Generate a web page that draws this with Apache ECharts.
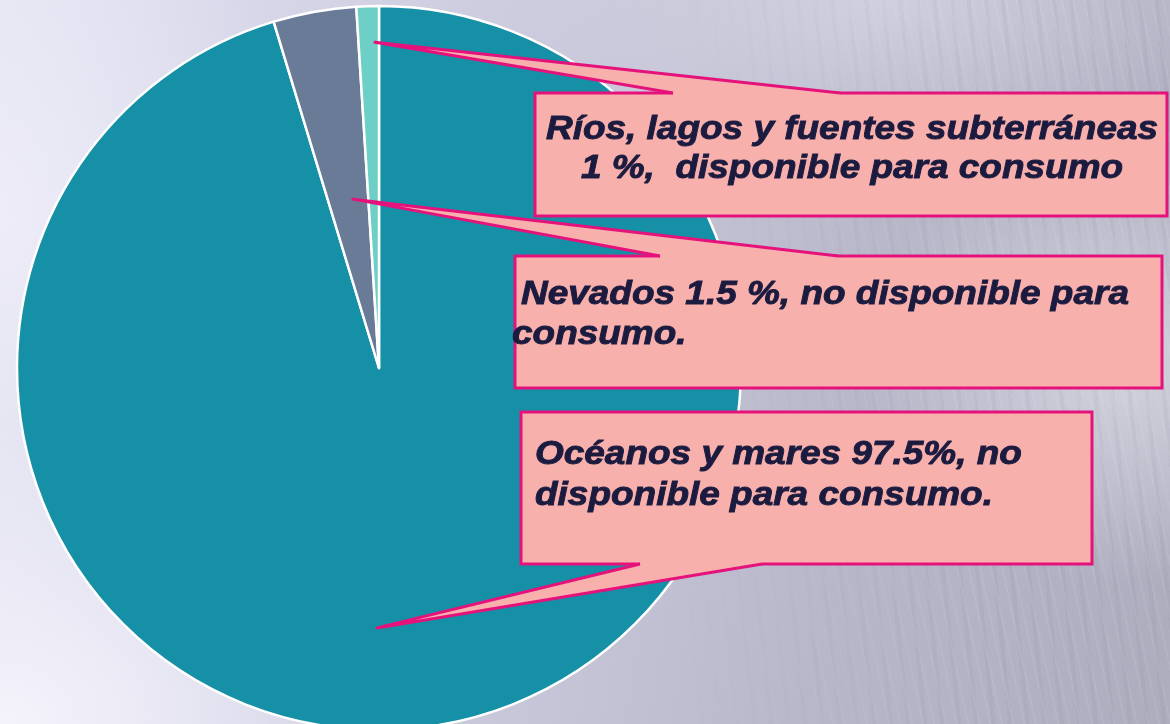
<!DOCTYPE html>
<html>
<head>
<meta charset="utf-8">
<title>Agua en el planeta</title>
<script src="https://cdn.jsdelivr.net/npm/echarts@6/dist/echarts.min.js"></script>
<style>
  html, body { margin: 0; padding: 0; }
  #wrap {
    position: relative; width: 1170px; height: 724px; overflow: hidden;
    background:
      radial-gradient(ellipse 420px 300px at 0% 100%, rgba(246,245,253,0.95), rgba(246,245,253,0) 100%),
      radial-gradient(ellipse 300px 420px at 0% 30%, rgba(240,239,250,0.8), rgba(240,239,250,0) 100%),
      radial-gradient(ellipse 260px 220px at 96% 50%, rgba(226,226,236,0.7), rgba(226,226,236,0) 100%),
      radial-gradient(ellipse 380px 160px at 75% 0%, rgba(214,213,228,0.8), rgba(214,213,228,0) 100%),
      linear-gradient(100deg, #e2e1f0 0%, #d3d2e5 28%, #c5c5d7 52%, #b7b7c9 72%, #adadbe 100%);
  }
  #streaks {
    position: absolute; left: 0; top: 0; width: 1170px; height: 724px;
    background:
      repeating-linear-gradient(78deg, rgba(255,255,255,0.07) 0 2px, rgba(255,255,255,0) 2px 11px),
      repeating-linear-gradient(84deg, rgba(90,90,110,0.05) 0 4px, rgba(90,90,110,0) 4px 17px);
    -webkit-mask-image: linear-gradient(90deg, transparent 58%, black 85%);
    mask-image: linear-gradient(90deg, transparent 58%, black 85%);
  }
  #AguaPie { position: absolute; left: 0; top: 0; width: 1170px; height: 724px; }
</style>
</head>
<body>
<div id="wrap">
  <div id="streaks"></div>
  <div id="AguaPie"></div>
</div>
<script>
  // slices, in drawing order (clockwise from 12 o'clock)
  const categories = ['Océanos y mares', 'Nevados', 'Ríos, lagos y fuentes subterráneas'];
  // shares as the slices are drawn in the picture (printed labels say 97.5 / 1.5 / 1)
  const shares = [95.3, 3.7, 1.0];
  const labelLines = [
    ['Océanos y mares 97.5%, no', 'disponible para consumo.'],
    ['Nevados 1.5 %, no disponible para', 'consumo.'],
    ['Ríos, lagos y fuentes subterráneas', '1 %,  disponible para consumo']
  ];
  const sliceColors = ['#1690a7', '#6a7b98', '#6dcfc6'];

  const pieCenter = [379, 368];
  const pieRadius = 362;

  // callout boxes: box [x, y, w, h], wedge base on box edge, tip = [t along slice, fraction of radius]
  const callouts = [
    { box: [521, 412, 571, 152], edge: 'bottom', base: [640, 762], tip: [0.526, 0.718],
      align: 'left', textX: [535, 535], textY: [455, 496] },
    { box: [515, 256, 647, 132], edge: 'top', base: [660, 838], tip: [0.61, 0.472],
      align: 'left', textX: [521, 512], textY: [295, 335] },
    { box: [535, 93, 632, 123], edge: 'top', base: [673, 840], tip: [0.8, 0.9],
      align: 'center', textX: [852, 852], textY: [130, 169] }
  ];

  const pink = '#f8b0ac';
  const magenta = '#e5127c';
  const ink = '#1b1b3f';

  function tipPoint(i, t, rf) {
    const total = shares.reduce((a, b) => a + b, 0);
    let before = 0;
    for (let k = 0; k < i; k++) before += shares[k];
    const deg = 360 * (before + t * shares[i]) / total;
    const a = deg * Math.PI / 180;
    return [pieCenter[0] + rf * pieRadius * Math.sin(a), pieCenter[1] - rf * pieRadius * Math.cos(a)];
  }

  function buildGraphics() {
    const els = [];
    callouts.forEach((c, i) => {
      const [bx, by, bw, bh] = c.box;
      const edgeY = c.edge === 'top' ? by : by + bh;
      const inward = c.edge === 'top' ? 3 : -3;
      const tip = tipPoint(i, c.tip[0], c.tip[1]);
      els.push({
        type: 'rect', z: 10, silent: true,
        shape: { x: bx, y: by, width: bw, height: bh },
        style: { fill: pink, stroke: magenta, lineWidth: 3 }
      });
      els.push({
        type: 'polygon', z: 11, silent: true,
        shape: { points: [tip, [c.base[0], edgeY], [c.base[0], edgeY + inward], [c.base[1], edgeY + inward], [c.base[1], edgeY]] },
        style: { fill: pink, stroke: null }
      });
      els.push({
        type: 'polyline', z: 12, silent: true,
        shape: { points: [[c.base[0], edgeY], tip, [c.base[1], edgeY]] },
        style: { stroke: magenta, lineWidth: 3, fill: null, lineJoin: 'round' }
      });
      labelLines[i].forEach((line, j) => {
        els.push({
          type: 'text', z: 13, silent: true,
          x: c.textX[j], y: c.textY[j], scaleX: 1.12,
          style: {
            text: line,
            fontSize: 33, fontWeight: 'bold', fontStyle: 'italic',
            fontFamily: '"Liberation Sans", Arial, sans-serif',
            fill: ink, stroke: ink, lineWidth: 0.9,
            align: c.align, verticalAlign: 'middle'
          }
        });
      });
    });
    return els;
  }

  const myEcharts = echarts.init(document.getElementById('AguaPie'));
  const options = {
    backgroundColor: 'transparent',
    animation: false,
    series: [{
      type: 'pie',
      center: pieCenter,
      radius: pieRadius,
      startAngle: 90,
      clockwise: true,
      silent: true,
      label: { show: false },
      labelLine: { show: false },
      itemStyle: { borderColor: '#ffffff', borderWidth: 2.5 },
      emphasis: { disabled: true },
      data: categories.map((name, i) => ({
        name: name,
        value: shares[i],
        itemStyle: { color: sliceColors[i] }
      }))
    }],
    graphic: { elements: buildGraphics() }
  };
  myEcharts.setOption(options, true);
</script>
</body>
</html>
